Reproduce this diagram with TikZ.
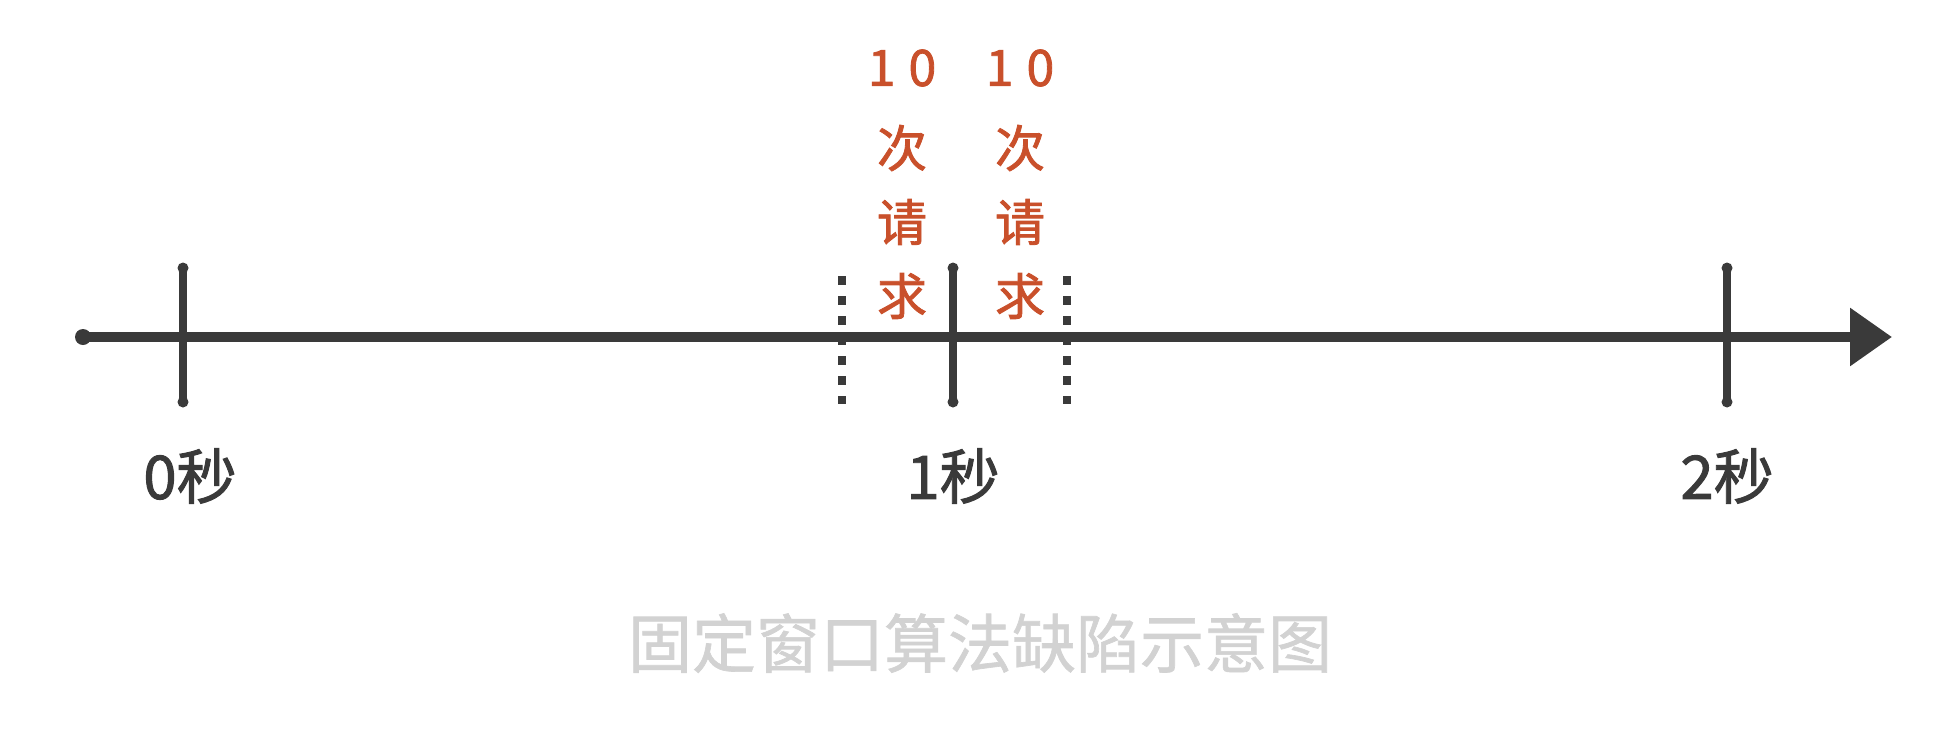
\documentclass[tikz,border=0pt]{standalone}
\usepackage{fontspec}
\setmainfont{Noto Sans CJK SC}[RawFeature={embolden=1.6}]
\newfontfamily\capfont{Noto Sans CJK SC}[RawFeature={embolden=1.0}]
\usetikzlibrary{arrows.meta}
\definecolor{ink}{HTML}{3A3A3A}
\definecolor{req}{HTML}{C9502B}
\definecolor{capgray}{HTML}{D2D2D2}
\begin{document}
\begin{tikzpicture}[x=1pt,y=-1pt,
  axisline/.style={draw=ink, line width=9.5pt, line cap=round},
  tickline/.style={draw=ink, line width=7.5pt, line cap=round},
  enddot/.style={fill=ink, draw=none},
  dotline/.style={draw=ink, line width=8.5pt, dash pattern=on 8.5pt off 11.5pt},
  reqtext/.style={text=req, font=\fontsize{50}{60}\selectfont, inner sep=0pt, anchor=center},
  ticklabel/.style={text=ink, font=\fontsize{60}{66}\selectfont, inner sep=0pt, anchor=center},
  captext/.style={text=capgray, font=\capfont\fontsize{64}{70}\selectfont, inner sep=0pt, anchor=center}]
\useasboundingbox (0,0) rectangle (1940,734);
% axis
\coordinate (a0) at (83,337);
\coordinate (a1) at (1892,337);
\draw[axisline, -{Triangle[length=42pt,width=56pt]}] (a0) -- (a1);
\fill[enddot] (a0) circle (8pt);
% ticks
\foreach \n/\x in {t0/183, t1/953, t2/1727}{
  \coordinate (\n top) at (\x,268);
  \coordinate (\n bot) at (\x,402);
  \draw[tickline] (\n top) -- (\n bot);
  \fill[enddot] (\n top) circle (5.5pt);
  \fill[enddot] (\n bot) circle (5.5pt);
}
% window boundaries (dotted)
\coordinate (wl top) at (842,276);
\coordinate (wl bot) at (842,404);
\coordinate (wr top) at (1067,276);
\coordinate (wr bot) at (1067,404);
\draw[dotline] (wl top) -- (wl bot);
\draw[dotline] (wr top) -- (wr bot);
% request labels
\node[reqtext] (l10) at (902,68) {1\hspace{13pt}0};
\node[reqtext] (l1) at (902,148) {次};
\node[reqtext] (l2) at (902,222) {请};
\node[reqtext] (l3) at (902,296) {求};
\node[reqtext] (r10) at (1020,68) {1\hspace{13pt}0};
\node[reqtext] (r1) at (1020,148) {次};
\node[reqtext] (r2) at (1020,222) {请};
\node[reqtext] (r3) at (1020,296) {求};
% tick labels
\node[ticklabel] (s0) at (190,476) {0秒};
\node[ticklabel] (s1) at (953,476) {1秒};
\node[ticklabel] (s2) at (1727,476) {2秒};
% caption
\node[captext] (cap) at (980,643) {固定窗口算法缺陷示意图};
\end{tikzpicture}
\end{document}
